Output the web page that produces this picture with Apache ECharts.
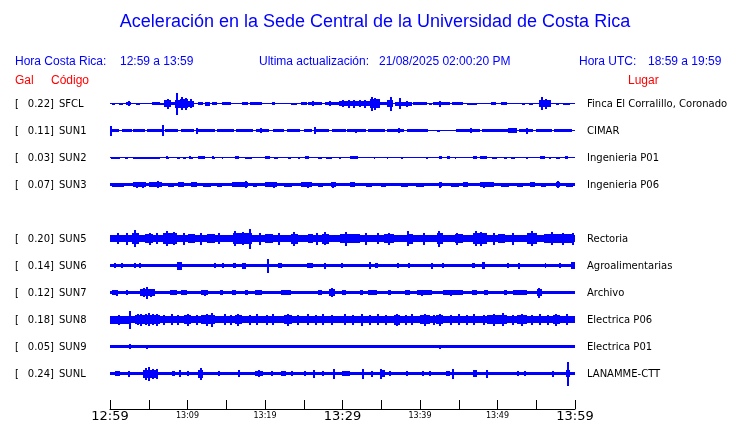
<!DOCTYPE html>
<html><head><meta charset="utf-8">
<script src="https://cdn.jsdelivr.net/npm/echarts@6/dist/echarts.min.js"></script>
<style>html,body{margin:0;padding:0;background:#fff}#c{width:740px;height:423px}</style>
</head><body><div id="c"></div><script>
// ---- data ----
const codes  = ['SFCL','SUN1','SUN2','SUN3','SUN5','SUN6','SUN7','SUN8','SUN9','SUNL'];
const peaks  = [0.22,0.11,0.03,0.07,0.20,0.14,0.12,0.18,0.05,0.24];
const places = ['Finca El Corralillo, Coronado','CIMAR','Ingenieria P01','Ingenieria P06','Rectoria','Agroalimentarias','Archivo','Electrica P06','Electrica P01','LANAMME-CTT'];
const rows   = [0,1,2,3,5,6,7,8,9,10];
const floors = [0.01,0.01,0.01,0.03,0.075,0.033,0.03,0.07,0.027,0.035];
const tickLabels = ['12:59','13:09','13:19','13:29','13:39','13:49','13:59'];
const bigTicks = ['12:59','13:29','13:59'];

// bursts: [startMin, endMin, halfAmplitude(gal)]
const sfclSegs = [[0.2,0.7,0.02],[1.1,1.7,0.02],[2.1,2.7,0.03],[3.4,3.9,0.02],[5.4,6.5,0.035],[6.5,7.0,0.02],[7.0,7.9,0.07],[7.9,8.4,0.03],[8.4,9.0,0.08],[9.0,10.0,0.09],[10.0,10.9,0.06],[11.4,12.0,0.025],[12.3,12.9,0.04],[13.2,13.8,0.025],[14.4,15.6,0.025],[17.0,17.8,0.025],[18.1,19.6,0.025],[20.9,21.3,0.025],[23.4,24.1,0.02],[24.7,25.4,0.025],[25.6,27.4,0.035],[27.7,29.5,0.035],[29.5,30.3,0.045],[30.3,31.0,0.045],[31.0,32.5,0.055],[32.5,33.5,0.045],[33.5,34.8,0.085],[34.8,35.7,0.025],[35.7,36.5,0.07],[36.8,39.0,0.04],[39.1,40.9,0.025],[41.1,41.5,0.02],[41.7,43.9,0.035],[44.1,45.6,0.025],[46.0,47.3,0.02],[49.2,49.8,0.025],[50.4,51.2,0.025],[53.1,53.5,0.02],[54.1,54.6,0.02],[55.3,56.9,0.07],[57.6,57.9,0.02],[58.4,59.4,0.02]];
const sfclSpikes = [[2.4,0.05],[7.5,0.1],[8.7,0.22],[9.3,0.13],[9.8,0.12],[10.4,0.09],[26.2,0.05],[28.4,0.05],[30.1,0.07],[30.8,0.08],[31.5,0.08],[32.2,0.07],[32.9,0.08],[33.8,0.14],[34.2,0.12],[36.2,0.14],[37.4,0.11],[38.3,0.06],[42.6,0.06],[55.7,0.13],[56.2,0.1]];

const sun1Segs = [[0.3,1.2,0.03],[1.5,2.8,0.025],[3.0,4.5,0.03],[4.8,6.7,0.03],[7.1,8.8,0.03],[9.2,10.8,0.03],[11.3,13.5,0.03],[13.8,16.0,0.03],[16.3,18.5,0.03],[18.9,20.5,0.03],[21.0,22.4,0.03],[22.8,24.5,0.03],[25.0,26.0,0.03],[26.6,28.2,0.03],[28.6,30.4,0.03],[30.6,33.0,0.03],[33.3,35.5,0.03],[35.8,37.9,0.03],[38.3,41.0,0.03],[42.2,42.6,0.02],[44.7,47.7,0.03],[48.0,51.4,0.03],[51.4,52.5,0.045],[52.8,54.6,0.03],[55.0,57.0,0.03],[57.3,59.6,0.03]];
const sun1Spikes = [[0.1,0.1],[6.9,0.11],[11.2,0.06],[19.5,0.05],[26.4,0.07],[31.8,0.04],[37.3,0.05],[46.6,0.05],[51.8,0.05],[53.8,0.06]];

const sun2Segs = [[0.1,1.3,0.02],[1.9,2.3,0.02],[3.0,6.5,0.02],[7.3,7.6,0.02],[8.6,9.0,0.02],[9.4,9.8,0.02],[10.3,10.7,0.02],[11.4,12.3,0.025],[13.1,13.5,0.02],[14.4,14.6,0.02],[16.1,16.6,0.025],[17.4,18.3,0.02],[20.0,20.6,0.025],[21.1,21.7,0.02],[23.0,23.4,0.02],[24.3,24.5,0.02],[25.2,25.7,0.025],[26.9,27.3,0.02],[27.9,28.6,0.02],[29.5,29.8,0.02],[31.0,32.0,0.025],[34.0,34.2,0.02],[35.7,35.9,0.02],[37.6,37.8,0.02],[40.8,41.0,0.02],[42.4,42.8,0.03],[43.5,43.9,0.03],[44.5,44.7,0.02],[46.9,47.3,0.03],[47.7,48.6,0.025],[49.3,49.9,0.02],[50.8,51.2,0.02],[51.8,52.3,0.02],[53.7,53.9,0.02],[55.5,56.1,0.03],[56.7,56.9,0.02],[57.6,58.1,0.02],[58.7,59.1,0.025]];
const sun2Spikes = [[7.4,0.03],[10.3,0.03],[13.3,0.03]];

const sun3Segs = [[0.2,1.8,0.04],[3.0,4.7,0.045],[5.0,6.7,0.045],[7.5,8.2,0.04],[8.8,9.5,0.045],[10.5,11.2,0.045],[12.0,13.0,0.04],[13.8,14.5,0.04],[15.7,17.8,0.045],[18.5,19.0,0.04],[20.0,21.5,0.045],[22.5,23.5,0.04],[24.7,26.0,0.045],[26.8,27.5,0.04],[28.5,29.2,0.045],[31.0,31.6,0.045],[33.0,33.8,0.04],[35.0,35.6,0.04],[37.5,38.5,0.04],[39.5,40.5,0.04],[42.4,42.8,0.055],[44.0,45.0,0.04],[45.6,46.2,0.045],[47.7,49.5,0.045],[50.5,51.5,0.04],[52.5,53.3,0.04],[54.2,54.8,0.045],[55.6,56.3,0.04],[57.6,58.1,0.055],[58.8,59.8,0.04]];
const sun3Spikes = [[3.5,0.06],[4.3,0.06],[6.2,0.07],[17.6,0.07],[21.1,0.06],[25.6,0.06],[28.8,0.06],[42.6,0.06],[48.2,0.06],[57.8,0.07]];

const sun5Segs = [[2.8,3.7,0.11],[4.5,5.5,0.095],[6.9,8.6,0.11],[10.0,11.0,0.095],[12.5,13.5,0.095],[15.9,18.3,0.11],[20.0,21.0,0.095],[23.4,24.3,0.1],[25.5,26.2,0.095],[27.3,28.2,0.1],[29.7,32.3,0.095],[35.3,36.6,0.095],[38.3,39.1,0.1],[42.2,43.0,0.11],[44.5,45.5,0.095],[46.9,48.6,0.11],[50.0,51.0,0.095],[53.8,55.1,0.11],[56.0,59.9,0.09]];
const sun5Spikes = [[1.0,0.11],[2.2,0.12],[3.2,0.17],[5.2,0.12],[6.0,0.11],[7.3,0.15],[8.2,0.13],[9.5,0.12],[11.8,0.12],[14.0,0.11],[16.1,0.15],[17.2,0.13],[18.0,0.2],[19.4,0.12],[21.8,0.12],[23.8,0.14],[26.7,0.12],[27.7,0.13],[30.5,0.14],[33.0,0.12],[34.6,0.11],[36.0,0.12],[38.5,0.15],[40.5,0.12],[42.5,0.16],[44.8,0.12],[47.2,0.15],[47.9,0.14],[49.5,0.12],[52.0,0.12],[54.4,0.15],[57.0,0.13],[58.5,0.12],[59.7,0.12]];

const sun6Segs = [[8.7,9.3,0.08],[15.9,16.3,0.05],[17.0,17.6,0.06],[21.7,22.2,0.05],[25.4,26.2,0.045],[34.2,34.6,0.045],[46.7,47.1,0.05],[48.0,48.4,0.07],[56.1,56.3,0.05]];
const sun6Spikes = [[0.6,0.05],[1.5,0.045],[3.2,0.05],[3.9,0.05],[13.5,0.05],[14.6,0.05],[20.4,0.14],[27.7,0.06],[29.9,0.05],[33.5,0.07],[37.1,0.05],[38.6,0.045],[41.5,0.06],[43.0,0.045],[48.2,0.07],[51.4,0.045],[52.8,0.06],[58.0,0.05],[59.6,0.07],[59.9,0.07]];

const sun7Segs = [[0.2,0.9,0.05],[2.1,2.3,0.05],[3.9,5.8,0.065],[7.8,8.6,0.045],[9.2,9.9,0.05],[11.8,12.7,0.05],[14.2,14.6,0.05],[15.7,16.3,0.05],[17.4,17.8,0.05],[18.7,19.6,0.05],[22.0,23.4,0.05],[26.9,27.3,0.05],[28.2,29.0,0.065],[29.9,30.5,0.05],[32.3,32.7,0.05],[33.3,34.4,0.05],[35.9,36.3,0.05],[38.1,38.7,0.055],[39.6,41.5,0.05],[43.0,45.6,0.05],[46.7,47.3,0.05],[48.2,48.8,0.05],[50.8,51.2,0.05],[52.0,53.8,0.05],[55.1,55.7,0.065]];
const sun7Spikes = [[0.9,0.06],[4.4,0.09],[4.8,0.12],[5.3,0.08],[12.3,0.06],[28.7,0.09],[40.2,0.06],[44.0,0.06],[55.4,0.1]];

const sun8Segs = [[0.0,2.4,0.08],[3.2,6.4,0.09],[9.5,10.5,0.09],[11.8,13.5,0.09],[16.1,17.0,0.09],[22.5,23.5,0.085],[36.6,37.4,0.1],[40.0,41.3,0.09],[42.1,43.0,0.09],[48.6,51.2,0.09],[52.5,53.8,0.09],[57.2,58.1,0.09]];
const sun8Spikes = [[1.2,0.1],[2.6,0.18],[3.6,0.11],[4.0,0.12],[4.6,0.11],[5.0,0.13],[5.6,0.11],[6.0,0.12],[7.0,0.1],[8.0,0.11],[8.8,0.1],[10.0,0.12],[11.2,0.1],[12.5,0.12],[13.1,0.14],[14.8,0.11],[15.6,0.1],[16.5,0.12],[18.0,0.1],[19.0,0.11],[20.2,0.1],[21.0,0.11],[23.0,0.12],[24.3,0.1],[25.5,0.11],[26.6,0.1],[27.5,0.11],[28.7,0.1],[30.3,0.11],[31.4,0.1],[32.5,0.12],[33.5,0.1],[34.6,0.11],[35.6,0.1],[37.0,0.12],[38.2,0.1],[39.0,0.11],[40.6,0.12],[41.8,0.1],[42.6,0.12],[44.0,0.1],[45.0,0.11],[46.0,0.1],[47.0,0.11],[48.2,0.1],[49.5,0.12],[50.7,0.13],[52.0,0.1],[53.2,0.12],[54.4,0.1],[55.5,0.11],[56.5,0.1],[57.6,0.12],[59.0,0.11]];

const sun9Segs = [[29.7,30.0,0.03],[44.0,44.3,0.03]];
const sun9Spikes = [[2.6,0.05],[4.8,0.04],[42.6,0.04],[47.3,0.035]];

const sunlSegs = [[0.6,1.3,0.05],[4.3,6.2,0.08],[8.0,8.4,0.05],[11.4,12.0,0.08],[16.6,16.8,0.06],[18.7,19.8,0.055],[22.0,22.7,0.05],[26.2,26.5,0.065],[29.9,31.0,0.055],[34.8,35.5,0.07],[43.4,43.9,0.055],[46.9,47.3,0.065],[57.0,57.2,0.055],[58.8,59.4,0.065]];
const sunlSpikes = [[2.4,0.06],[4.7,0.12],[5.0,0.14],[5.6,0.1],[6.1,0.1],[8.2,0.05],[9.0,0.07],[10.1,0.05],[11.7,0.12],[14.0,0.05],[16.7,0.07],[19.2,0.07],[20.9,0.05],[22.5,0.05],[23.5,0.05],[25.2,0.05],[26.3,0.08],[27.5,0.05],[28.9,0.1],[32.7,0.1],[33.8,0.06],[35.0,0.1],[36.1,0.05],[38.3,0.05],[40.4,0.05],[41.3,0.05],[44.2,0.1],[47.1,0.07],[48.7,0.08],[52.7,0.05],[53.6,0.05],[57.1,0.06],[59.1,0.24]];

const allSegs = [sfclSegs,sun1Segs,sun2Segs,sun3Segs,sun5Segs,sun6Segs,sun7Segs,sun8Segs,sun9Segs,sunlSegs];
const allSpikes = [sfclSpikes,sun1Spikes,sun2Spikes,sun3Spikes,sun5Spikes,sun6Spikes,sun7Spikes,sun8Spikes,sun9Spikes,sunlSpikes];

// ---- build ----
const ROW = 0.54; // gal between trace baselines
const items = [];
codes.forEach((c, i) => {
  const y0 = rows[i] * ROW;
  items.push([0, 60, y0, floors[i], 0]);
  allSegs[i].forEach(s => items.push([s[0], s[1], y0, s[2], 0]));
  allSpikes[i].forEach(s => items.push([s[0], s[0], y0, s[1], 1]));
});

const chart = echarts.init(document.getElementById('c'), null, {renderer: 'canvas'});
const BLUE = '#0000ff';
const GRID_H = 319;
chart.setOption({
  animation: false,
  backgroundColor: '#fff',
  grid: {left: 110, right: 165, top: 90, height: GRID_H, containLabel: false},
  xAxis: {
    type: 'value', min: 0, max: 60, interval: 5, position: 'bottom',
    axisLine: {show: true, onZero: false, lineStyle: {color: '#000', width: 1}},
    axisTick: {show: true, inside: true, length: 9, lineStyle: {color: '#000'}},
    splitLine: {show: false},
    axisLabel: {
      margin: 1, showMinLabel: true, showMaxLabel: true,
      formatter: v => {
        if (v % 10 !== 0) return '';
        const s = tickLabels[v / 10];
        return bigTicks.includes(s) ? '{b|' + s + '}' : '{s|' + s + '}';
      },
      rich: {
        b: {fontFamily: 'DejaVu Sans', fontSize: 13, color: '#000'},
        s: {fontFamily: 'DejaVu Sans', fontSize: 8, color: '#000', padding: [2, 0, 0, 0]}
      }
    }
  },
  yAxis: {type: 'value', min: -0.27, max: -0.27 + GRID_H / 50, inverse: true, show: false},
  series: [{
    type: 'custom',
    data: items,
    encode: {x: [0, 1], y: 2},
    renderItem: (params, api) => {
      const t0 = api.value(0), t1 = api.value(1), y = api.value(2), a = api.value(3), k = api.value(4);
      const p0 = api.coord([t0, y - a]);
      const p1 = api.coord([t1, y + a]);
      let x0 = Math.round(p0[0]), x1 = Math.round(p1[0]);
      if (k === 1) { x0 = Math.round(p0[0]) - 1; x1 = x0 + 2; }
      else if (x1 - x0 < 1) x1 = x0 + 1;
      let ya = Math.round(Math.min(p0[1], p1[1])), yb = Math.round(Math.max(p0[1], p1[1]));
      if (yb - ya < 1) yb = ya + 1;
      return {type: 'rect', shape: {x: x0, y: ya, width: x1 - x0, height: yb - ya}, style: {fill: BLUE}};
    }
  }]
});

// ---- texts ----
const g = [];
const HF = 'Liberation Sans, Arial, sans-serif';
const LF = 'DejaVu Sans, sans-serif';
function txt(x, y, s, opt) {
  g.push({type: 'text', x: x, y: y, silent: true,
    style: Object.assign({text: s, fill: '#000', font: '10px ' + LF, textVerticalAlign: 'middle', textAlign: 'left'}, opt || {})});
}
txt(375, 22, 'Aceleración en la Sede Central de la Universidad de Costa Rica', {fill: BLUE, font: '18px ' + HF, textAlign: 'center'});
txt(15, 61.5, 'Hora Costa Rica:', {fill: BLUE, font: '12px ' + HF});
txt(120, 61.5, '12:59 a 13:59', {fill: BLUE, font: '12px ' + HF});
txt(259, 61.5, 'Ultima actualización:', {fill: BLUE, font: '12px ' + HF});
txt(379, 61.5, '21/08/2025 02:00:20 PM', {fill: BLUE, font: '12px ' + HF});
txt(579, 61.5, 'Hora UTC:', {fill: BLUE, font: '12px ' + HF});
txt(648, 61.5, '18:59 a 19:59', {fill: BLUE, font: '12px ' + HF});
txt(15, 80.5, 'Gal', {fill: '#ff0000', font: '12px ' + HF});
txt(51, 80.5, 'Código', {fill: '#ff0000', font: '12px ' + HF});
txt(628, 80.5, 'Lugar', {fill: '#ff0000', font: '12px ' + HF});
codes.forEach((c, i) => {
  const y = chart.convertToPixel({gridIndex: 0}, [0, rows[i] * ROW])[1];
  txt(15, y + 0.5, '[');
  txt(54, y + 0.5, peaks[i].toFixed(2) + ']', {textAlign: 'right'});
  txt(59, y + 0.5, c);
  txt(587, y + 0.5, places[i]);
});
chart.setOption({graphic: g});
</script></body></html>
